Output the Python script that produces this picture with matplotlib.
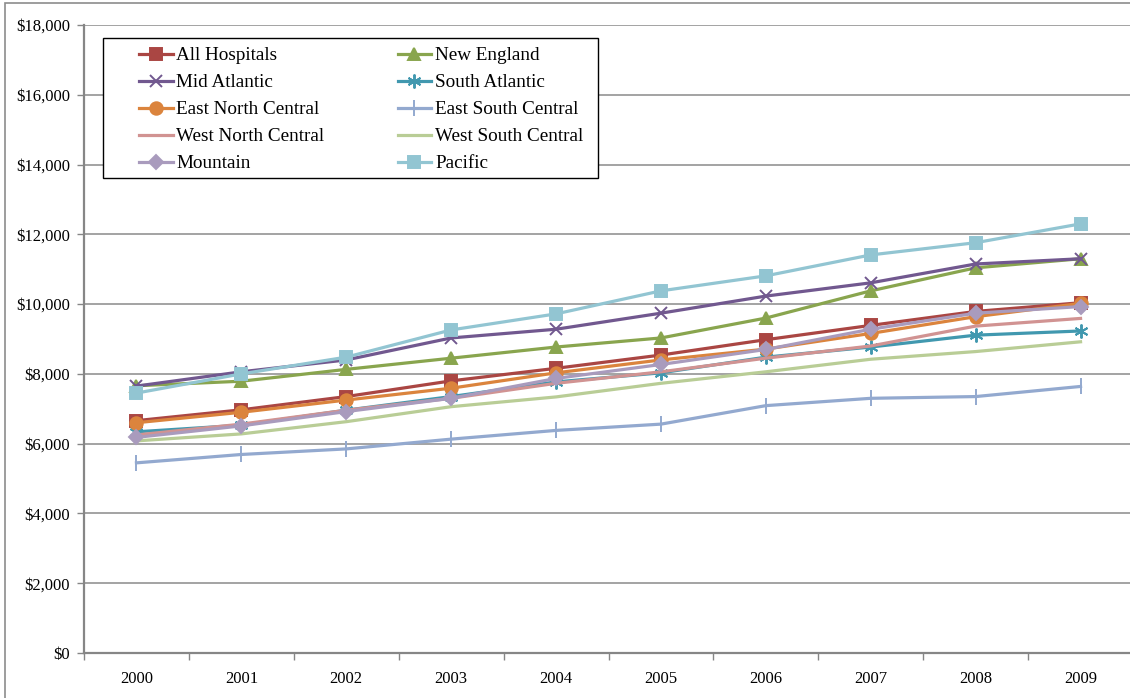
import numpy as np
import matplotlib.pyplot as plt
import matplotlib.ticker as mtick
from matplotlib.patches import Rectangle

# ------- DATA ----------
years = ["2000", "2001", "2002", "2003", "2004", "2005", "2006", "2007", "2008", "2009"]

all_hospitals      = [6660, 6970, 7350, 7800, 8160, 8540, 8980, 9390, 9790, 10040]
new_england        = [7660, 7790, 8130, 8450, 8770, 9030, 9600, 10380, 11040, 11300]
mid_atlantic       = [7650, 8060, 8400, 9030, 9280, 9740, 10230, 10610, 11150, 11300]
south_atlantic     = [6340, 6530, 6960, 7350, 7770, 8030, 8480, 8770, 9110, 9230]
east_north_central = [6600, 6900, 7250, 7590, 8030, 8400, 8710, 9160, 9640, 10020]
east_south_central = [5450, 5690, 5850, 6130, 6380, 6560, 7090, 7300, 7350, 7640]
west_north_central = [6250, 6560, 6960, 7300, 7730, 8060, 8450, 8800, 9370, 9590]
west_south_central = [6080, 6280, 6630, 7060, 7340, 7730, 8060, 8420, 8640, 8920]
mountain           = [6180, 6510, 6920, 7300, 7870, 8270, 8700, 9280, 9740, 9930]
pacific            = [7450, 8000, 8480, 9260, 9720, 10380, 10810, 11410, 11760, 12300]

# name, values, colour, marker, marker size
series = [
    ("All Hospitals",      all_hospitals,      "#AA4643", "s", 8.5),
    ("New England",        new_england,        "#89A54E", "^", 8.5),
    ("Mid Atlantic",       mid_atlantic,       "#71588F", "x", 8.5),
    ("South Atlantic",     south_atlantic,     "#4198AF", (6, 2, 0), 10),
    ("East North Central", east_north_central, "#DB843D", "o", 9),
    ("East South Central", east_south_central, "#93A9CF", "|", 11),
    ("West North Central", west_north_central, "#D19392", None, 0),
    ("West South Central", west_south_central, "#B9CD96", None, 0),
    ("Mountain",           mountain,           "#A99BBD", "D", 7),
    ("Pacific",            pacific,            "#92C5D2", "s", 8.5),
]

plt.rcParams["font.family"] = ["Liberation Serif", "DejaVu Serif"]

W, H = 1130, 698
fig = plt.figure(figsize=(W / 100, H / 100), dpi=100)

# chart area frame
fig.patches.append(Rectangle((5 / W, -0.1), 1.2, 1 - 3 / H + 0.1, transform=fig.transFigure,
                             fill=False, edgecolor="#8C8C8C", linewidth=1.2))

ax = fig.add_axes([84 / W, 45 / H, 1049 / W, 628 / H])
x = np.arange(len(years))

handles = {}
for name, vals, color, mk, ms in series:
    (h,) = ax.plot(x, vals, color=color, linewidth=2.3, marker=mk, markersize=ms,
                   markeredgewidth=1.4, markeredgecolor=color, markerfacecolor=color,
                   label=name, solid_joinstyle="round")
    handles[name] = h

ax.set_xlim(-0.5, 9.5)
ax.set_ylim(0, 18000)

ax.yaxis.set_major_locator(mtick.MultipleLocator(2000))
ax.yaxis.set_major_formatter(mtick.FuncFormatter(lambda v, _: f"${v:,.0f}"))
ax.set_xticks(x)
ax.set_xticklabels(years)
ax.set_xticks(np.arange(-0.5, 10, 1), minor=True)
ax.tick_params(axis="x", which="major", length=0, pad=13, labelsize=12)
ax.tick_params(axis="x", which="minor", length=5, color="#868686", width=1)
ax.tick_params(axis="y", length=5, color="#868686", width=1, labelsize=12, pad=5)

ax.grid(axis="y", color="#A3A3A3", linewidth=1.4)
ax.set_axisbelow(True)
for side in ["top", "right"]:
    ax.spines[side].set_visible(False)
for side in ["left", "bottom"]:
    ax.spines[side].set_color("#868686")
    ax.spines[side].set_linewidth(1.6)

# legend box, entries filled row by row
fig.patches.append(Rectangle((103 / W, 1 - 178 / H), (598 - 103) / W, (178 - 38) / H,
                             transform=fig.transFigure, facecolor="white",
                             edgecolor="black", linewidth=1.0, zorder=5))
order = ["All Hospitals", "Mid Atlantic", "East North Central", "West North Central", "Mountain",
         "New England", "South Atlantic", "East South Central", "West South Central", "Pacific"]
leg = fig.legend([handles[n] for n in order], order, ncol=2, loc="upper left",
                 bbox_to_anchor=(139 / W, 1 - 47 / H),
                 fontsize=13.8, frameon=False,
                 handlelength=1.75, handletextpad=0.2, columnspacing=3.82,
                 labelspacing=0.5, borderpad=0, borderaxespad=0)
leg.set_zorder(6)

fig.savefig("out.png", dpi=100)
